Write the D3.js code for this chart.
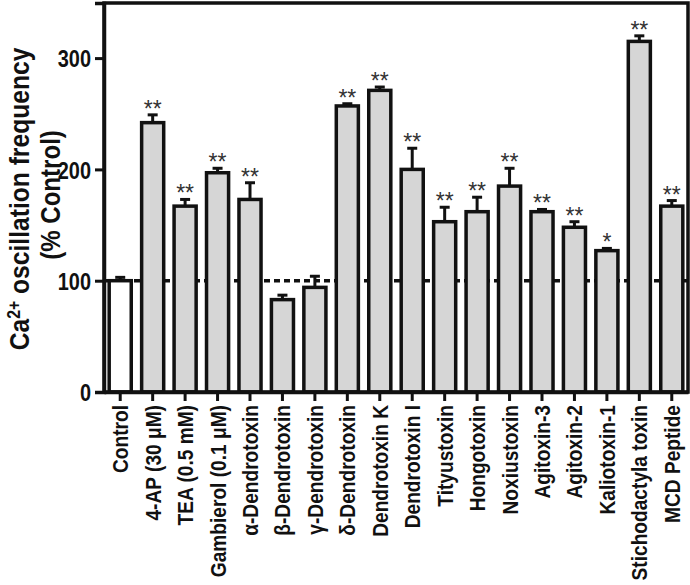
<!DOCTYPE html>
<html>
<head>
<meta charset="utf-8" />
<title>Ca oscillation frequency</title>
<style>
  body { margin: 0; background: #fff; }
  text { font-family: "Liberation Sans", Arial, sans-serif; }
</style>
</head>
<body>
<svg id="chart" width="690" height="585"></svg>
<script src="https://cdn.jsdelivr.net/npm/d3@7"></script>
<script>

var categories = ["Control", "4-AP (30  \u03BCM)", "TEA (0.5 mM)", "Gambierol (0.1  \u03BCM)",
  "\u03B1-Dendrotoxin", "\u03B2-Dendrotoxin", "\u03B3-Dendrotoxin", "\u03B4-Dendrotoxin",
  "Dendrotoxin K", "Dendrotoxin I", "Tityustoxin", "Hongotoxin", "Noxiustoxin",
  "Agitoxin-3", "Agitoxin-2", "Kaliotoxin-1", "Stichodactyla toxin", "MCD Peptide"];
var means  = [100, 242, 167, 197, 173, 83, 94, 257, 271, 200, 153, 162, 185, 162, 148, 127, 315, 167];
var errors = [3, 7, 6, 4, 15, 4, 10, 2, 3, 19, 13, 13, 16, 2, 5, 2, 5, 5];
var stars  = ["", "**", "**", "**", "**", "", "", "**", "**", "**", "**", "**", "**", "**", "**", "*", "**", "**"];
var yTicks = [0, 100, 200, 300];

var plotLeft = 104, plotRight = 688, plotTop = 3, plotBottom = 392;
var squeeze = 0.83;

var svg = d3.select("#chart");

var x = d3.scaleBand()
  .domain(categories)
  .range([plotLeft, plotRight])
  .paddingInner(0.32)
  .paddingOuter(0.16);

var y = d3.scaleLinear()
  .domain([0, 349.5])
  .range([plotBottom, plotTop]);

var data = categories.map(function(c, i){
  return {name: c, mean: means[i], err: errors[i], star: stars[i]};
});

// dashed control line behind the bars
svg.append("line")
  .attr("x1", plotLeft).attr("x2", plotRight)
  .attr("y1", y(100)).attr("y2", y(100))
  .attr("stroke", "#111").attr("stroke-width", 3.5)
  .attr("stroke-dasharray", "6,4");

// error bars
var eb = svg.selectAll(".err").data(data).enter().append("g");
eb.append("line")
  .attr("x1", function(d){ return x(d.name) + x.bandwidth()/2; })
  .attr("x2", function(d){ return x(d.name) + x.bandwidth()/2; })
  .attr("y1", function(d){ return y(d.mean); })
  .attr("y2", function(d){ return y(d.mean + d.err); })
  .attr("stroke", "#111").attr("stroke-width", 3);
eb.append("line")
  .attr("x1", function(d){ return x(d.name) + x.bandwidth()/2 - 5; })
  .attr("x2", function(d){ return x(d.name) + x.bandwidth()/2 + 5; })
  .attr("y1", function(d){ return y(d.mean + d.err); })
  .attr("y2", function(d){ return y(d.mean + d.err); })
  .attr("stroke", "#111").attr("stroke-width", 3);

// bars
svg.selectAll(".bar").data(data).enter().append("rect")
  .attr("x", function(d){ return x(d.name); })
  .attr("width", x.bandwidth())
  .attr("y", function(d){ return y(d.mean); })
  .attr("height", function(d){ return y(0) - y(d.mean); })
  .attr("fill", function(d, i){ return i == 0 ? "#ffffff" : "#d6d6d6"; })
  .attr("stroke", "#111").attr("stroke-width", 3.5);

// significance stars
svg.selectAll(".star").data(data).enter().append("text")
  .attr("x", function(d){ return x(d.name) + x.bandwidth()/2; })
  .attr("y", function(d){ return y(d.mean + d.err) + 2; })
  .attr("text-anchor", "middle")
  .attr("font-size", 23)
  .attr("fill", "#333")
  .text(function(d){ return d.star; });

// frame
svg.append("rect")
  .attr("x", plotLeft).attr("y", plotTop)
  .attr("width", plotRight - plotLeft).attr("height", plotBottom - plotTop)
  .attr("fill", "none").attr("stroke", "#111").attr("stroke-width", 3.5);

// y axis
var yAxis = svg.append("g")
  .attr("transform", "translate(" + plotLeft + ",0)")
  .call(d3.axisLeft(y).tickValues(yTicks).tickSize(9).tickPadding(4));
yAxis.select(".domain").attr("stroke-width", 3.5).attr("stroke", "#111");
yAxis.selectAll(".tick line").attr("stroke-width", 3).attr("stroke", "#111");
yAxis.selectAll(".tick text")
  .attr("font-family", "Liberation Sans, Arial, sans-serif")
  .attr("font-weight", "bold")
  .attr("font-size", 24)
  .attr("fill", "#111")
  .attr("dy", "0.36em")
  .attr("text-anchor", "end")
  .attr("transform", "translate(-13,0) scale(" + squeeze + ",1) translate(13,0)");

// x axis
var xAxis = svg.append("g")
  .attr("transform", "translate(0," + plotBottom + ")")
  .call(d3.axisBottom(x).tickSize(9).tickSizeOuter(0));
xAxis.select(".domain").attr("stroke-width", 3.5).attr("stroke", "#111");
xAxis.selectAll(".tick line").attr("stroke-width", 3).attr("stroke", "#111");
xAxis.selectAll(".tick text").remove();

svg.selectAll(".xlab").data(categories).enter().append("text")
  .attr("transform", function(d){
    return "translate(" + (x(d) + x.bandwidth()/2 + 8) + ",405) rotate(-90) scale(0.87,1)";
  })
  .attr("text-anchor", "end")
  .attr("font-weight", "bold")
  .attr("font-size", 22)
  .attr("fill", "#111")
  .text(function(d){ return d; });

// y title
var t1 = svg.append("text")
  .attr("transform", "translate(29,199) rotate(-90) scale(0.88,1)")
  .attr("text-anchor", "middle")
  .attr("font-weight", "bold")
  .attr("font-size", 28)
  .attr("fill", "#111");
t1.append("tspan").text("Ca");
t1.append("tspan").attr("font-size", 18).attr("dy", -9).text("2+");
t1.append("tspan").attr("dy", 9).text(" oscillation frequency");

svg.append("text")
  .attr("transform", "translate(60,195) rotate(-90) scale(0.86,1)")
  .attr("text-anchor", "middle")
  .attr("font-weight", "bold")
  .attr("font-size", 28)
  .attr("fill", "#111")
  .text("(% Control)");

</script>
</body>
</html>
